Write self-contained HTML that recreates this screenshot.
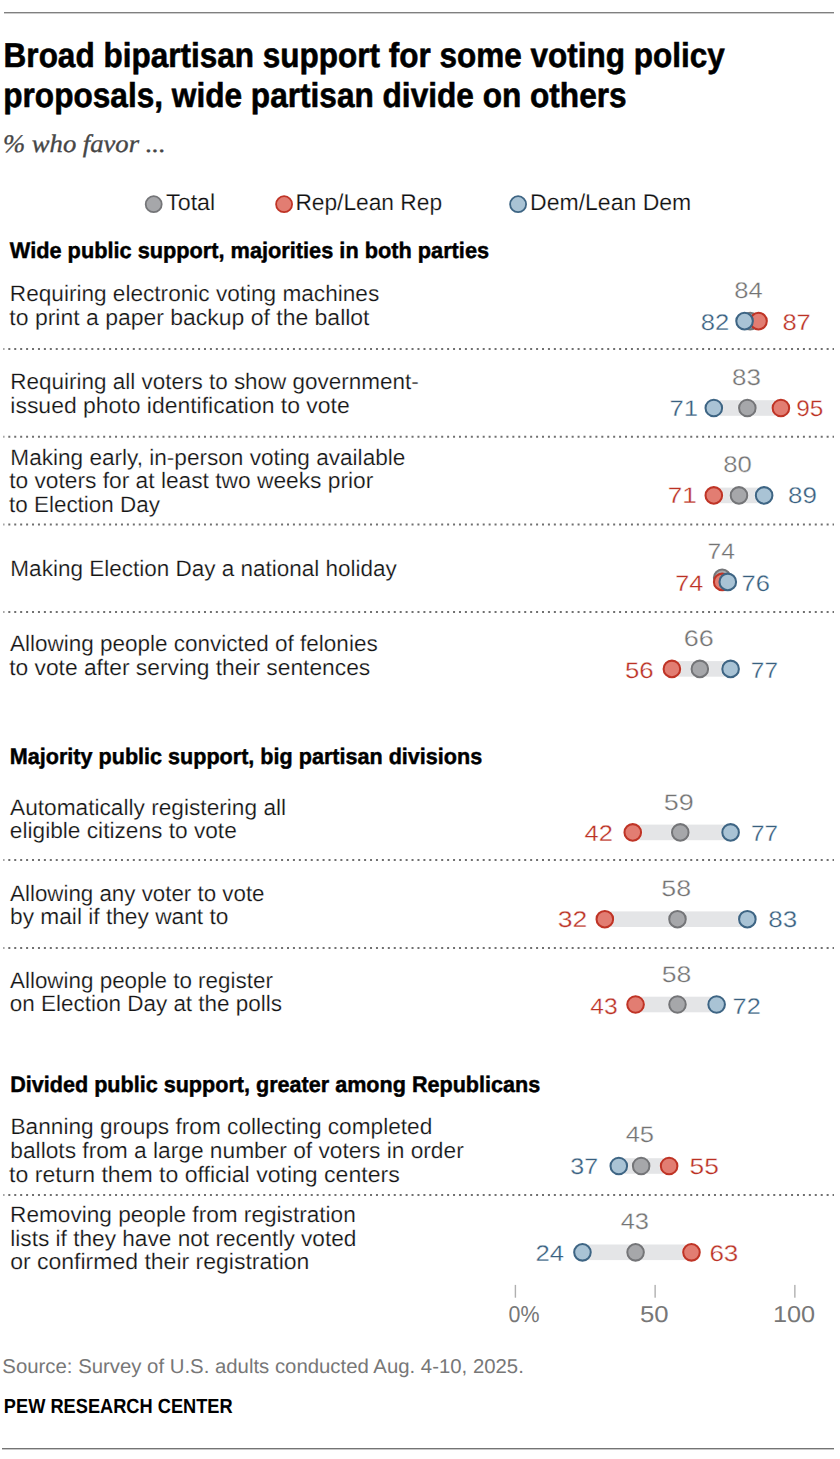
<!DOCTYPE html><html><head><meta charset="utf-8"><style>html,body{margin:0;padding:0;background:#fff;}svg{display:block;}text{font-kerning:normal;text-rendering:geometricPrecision;}</style></head><body>
<svg width="840" height="1459" viewBox="0 0 840 1459">
<rect width="840" height="1459" fill="#fff"/>
<rect x="4" y="12" width="830" height="1.4" fill="#808080"/>
<rect x="2" y="1448" width="832" height="1.4" fill="#747474"/>
<line x1="3.4" y1="348.9" x2="834" y2="348.9" stroke="#707070" stroke-width="2" stroke-dasharray="2 3.93" stroke-dashoffset="1.03"/>
<line x1="3.4" y1="436.8" x2="834" y2="436.8" stroke="#707070" stroke-width="2" stroke-dasharray="2 3.93" stroke-dashoffset="1.03"/>
<line x1="3.4" y1="524.5" x2="834" y2="524.5" stroke="#707070" stroke-width="2" stroke-dasharray="2 3.93" stroke-dashoffset="1.03"/>
<line x1="3.4" y1="612.1" x2="834" y2="612.1" stroke="#707070" stroke-width="2" stroke-dasharray="2 3.93" stroke-dashoffset="1.03"/>
<line x1="3.4" y1="860.0" x2="834" y2="860.0" stroke="#707070" stroke-width="2" stroke-dasharray="2 3.93" stroke-dashoffset="1.03"/>
<line x1="3.4" y1="947.9" x2="834" y2="947.9" stroke="#707070" stroke-width="2" stroke-dasharray="2 3.93" stroke-dashoffset="1.03"/>
<line x1="3.4" y1="1195.0" x2="834" y2="1195.0" stroke="#707070" stroke-width="2" stroke-dasharray="2 3.93" stroke-dashoffset="1.03"/>
<circle cx="153.7" cy="204.2" r="8" fill="#a6a7aa" stroke="#747578" stroke-width="1.8"/>
<circle cx="284.1" cy="204.2" r="8" fill="#e27d72" stroke="#bf3426" stroke-width="1.8"/>
<circle cx="518.1" cy="204.2" r="8" fill="#a9c3d5" stroke="#3e6584" stroke-width="1.8"/>
<rect x="744.56" y="313.30" width="13.97" height="15.6" fill="#e4e5e7"/>
<circle cx="750.15" cy="321.10" r="8.3" fill="#a6a7aa" stroke="#747578" stroke-width="2.05"/>
<circle cx="758.53" cy="321.10" r="8.3" fill="#e27d72" stroke="#bf3426" stroke-width="2.05"/>
<circle cx="744.56" cy="321.10" r="8.3" fill="#a9c3d5" stroke="#3e6584" stroke-width="2.05"/>
<rect x="713.82" y="400.20" width="67.07" height="15.6" fill="#e4e5e7"/>
<circle cx="747.35" cy="408.00" r="9.7" fill="#fff" fill-opacity="0.75"/>
<circle cx="747.35" cy="408.00" r="8.3" fill="#a6a7aa" stroke="#747578" stroke-width="2.05"/>
<circle cx="713.82" cy="408.00" r="9.7" fill="#fff" fill-opacity="0.75"/>
<circle cx="713.82" cy="408.00" r="8.3" fill="#a9c3d5" stroke="#3e6584" stroke-width="2.05"/>
<circle cx="780.89" cy="408.00" r="9.7" fill="#fff" fill-opacity="0.75"/>
<circle cx="780.89" cy="408.00" r="8.3" fill="#e27d72" stroke="#bf3426" stroke-width="2.05"/>
<rect x="713.82" y="487.60" width="50.30" height="15.6" fill="#e4e5e7"/>
<circle cx="738.97" cy="495.40" r="9.7" fill="#fff" fill-opacity="0.75"/>
<circle cx="738.97" cy="495.40" r="8.3" fill="#a6a7aa" stroke="#747578" stroke-width="2.05"/>
<circle cx="764.12" cy="495.40" r="9.7" fill="#fff" fill-opacity="0.75"/>
<circle cx="764.12" cy="495.40" r="8.3" fill="#a9c3d5" stroke="#3e6584" stroke-width="2.05"/>
<circle cx="713.82" cy="495.40" r="9.7" fill="#fff" fill-opacity="0.75"/>
<circle cx="713.82" cy="495.40" r="8.3" fill="#e27d72" stroke="#bf3426" stroke-width="2.05"/>
<rect x="722.20" y="574.10" width="5.59" height="15.6" fill="#e4e5e7"/>
<circle cx="722.20" cy="577.80" r="8.3" fill="#a6a7aa" stroke="#747578" stroke-width="2.05"/>
<circle cx="722.20" cy="581.90" r="8.3" fill="#e27d72" stroke="#bf3426" stroke-width="2.05"/>
<circle cx="727.79" cy="581.90" r="8.3" fill="#a9c3d5" stroke="#3e6584" stroke-width="2.05"/>
<rect x="671.90" y="661.10" width="58.69" height="15.6" fill="#e4e5e7"/>
<circle cx="699.84" cy="668.90" r="9.7" fill="#fff" fill-opacity="0.75"/>
<circle cx="699.84" cy="668.90" r="8.3" fill="#a6a7aa" stroke="#747578" stroke-width="2.05"/>
<circle cx="730.58" cy="668.90" r="9.7" fill="#fff" fill-opacity="0.75"/>
<circle cx="730.58" cy="668.90" r="8.3" fill="#a9c3d5" stroke="#3e6584" stroke-width="2.05"/>
<circle cx="671.90" cy="668.90" r="9.7" fill="#fff" fill-opacity="0.75"/>
<circle cx="671.90" cy="668.90" r="8.3" fill="#e27d72" stroke="#bf3426" stroke-width="2.05"/>
<rect x="632.77" y="824.60" width="97.81" height="15.6" fill="#e4e5e7"/>
<circle cx="680.28" cy="832.40" r="9.7" fill="#fff" fill-opacity="0.75"/>
<circle cx="680.28" cy="832.40" r="8.3" fill="#a6a7aa" stroke="#747578" stroke-width="2.05"/>
<circle cx="730.58" cy="832.40" r="9.7" fill="#fff" fill-opacity="0.75"/>
<circle cx="730.58" cy="832.40" r="8.3" fill="#a9c3d5" stroke="#3e6584" stroke-width="2.05"/>
<circle cx="632.77" cy="832.40" r="9.7" fill="#fff" fill-opacity="0.75"/>
<circle cx="632.77" cy="832.40" r="8.3" fill="#e27d72" stroke="#bf3426" stroke-width="2.05"/>
<rect x="604.83" y="911.40" width="142.52" height="15.6" fill="#e4e5e7"/>
<circle cx="677.49" cy="919.20" r="9.7" fill="#fff" fill-opacity="0.75"/>
<circle cx="677.49" cy="919.20" r="8.3" fill="#a6a7aa" stroke="#747578" stroke-width="2.05"/>
<circle cx="747.35" cy="919.20" r="9.7" fill="#fff" fill-opacity="0.75"/>
<circle cx="747.35" cy="919.20" r="8.3" fill="#a9c3d5" stroke="#3e6584" stroke-width="2.05"/>
<circle cx="604.83" cy="919.20" r="9.7" fill="#fff" fill-opacity="0.75"/>
<circle cx="604.83" cy="919.20" r="8.3" fill="#e27d72" stroke="#bf3426" stroke-width="2.05"/>
<rect x="635.57" y="996.70" width="81.04" height="15.6" fill="#e4e5e7"/>
<circle cx="677.49" cy="1004.50" r="9.7" fill="#fff" fill-opacity="0.75"/>
<circle cx="677.49" cy="1004.50" r="8.3" fill="#a6a7aa" stroke="#747578" stroke-width="2.05"/>
<circle cx="716.61" cy="1004.50" r="9.7" fill="#fff" fill-opacity="0.75"/>
<circle cx="716.61" cy="1004.50" r="8.3" fill="#a9c3d5" stroke="#3e6584" stroke-width="2.05"/>
<circle cx="635.57" cy="1004.50" r="9.7" fill="#fff" fill-opacity="0.75"/>
<circle cx="635.57" cy="1004.50" r="8.3" fill="#e27d72" stroke="#bf3426" stroke-width="2.05"/>
<rect x="618.80" y="1158.20" width="50.30" height="15.6" fill="#e4e5e7"/>
<circle cx="641.16" cy="1166.00" r="9.7" fill="#fff" fill-opacity="0.75"/>
<circle cx="641.16" cy="1166.00" r="8.3" fill="#a6a7aa" stroke="#747578" stroke-width="2.05"/>
<circle cx="618.80" cy="1166.00" r="9.7" fill="#fff" fill-opacity="0.75"/>
<circle cx="618.80" cy="1166.00" r="8.3" fill="#a9c3d5" stroke="#3e6584" stroke-width="2.05"/>
<circle cx="669.10" cy="1166.00" r="9.7" fill="#fff" fill-opacity="0.75"/>
<circle cx="669.10" cy="1166.00" r="8.3" fill="#e27d72" stroke="#bf3426" stroke-width="2.05"/>
<rect x="582.47" y="1244.50" width="108.99" height="15.6" fill="#e4e5e7"/>
<circle cx="635.57" cy="1252.30" r="9.7" fill="#fff" fill-opacity="0.75"/>
<circle cx="635.57" cy="1252.30" r="8.3" fill="#a6a7aa" stroke="#747578" stroke-width="2.05"/>
<circle cx="582.47" cy="1252.30" r="9.7" fill="#fff" fill-opacity="0.75"/>
<circle cx="582.47" cy="1252.30" r="8.3" fill="#a9c3d5" stroke="#3e6584" stroke-width="2.05"/>
<circle cx="691.46" cy="1252.30" r="9.7" fill="#fff" fill-opacity="0.75"/>
<circle cx="691.46" cy="1252.30" r="8.3" fill="#e27d72" stroke="#bf3426" stroke-width="2.05"/>
<rect x="514.70" y="1284.9" width="1.4" height="12.8" fill="#b0b0b0"/>
<rect x="654.43" y="1284.9" width="1.4" height="12.8" fill="#b0b0b0"/>
<rect x="794.16" y="1284.9" width="1.4" height="12.8" fill="#b0b0b0"/>
<text x="3.61" y="66.70" font-family="'Liberation Sans', sans-serif" font-size="34.5" font-weight="bold" font-style="normal" fill="#000" stroke="#000" stroke-width="0.6" textLength="721.27" lengthAdjust="spacingAndGlyphs">Broad bipartisan support for some voting policy</text>
<text x="3.27" y="107.00" font-family="'Liberation Sans', sans-serif" font-size="34.5" font-weight="bold" font-style="normal" fill="#000" stroke="#000" stroke-width="0.6" textLength="623.35" lengthAdjust="spacingAndGlyphs">proposals, wide partisan divide on others</text>
<text x="3.02" y="151.60" font-family="'Liberation Serif', serif" font-size="25.2" font-weight="normal" font-style="italic" fill="#464646" stroke="#464646" stroke-width="0.35" textLength="162.61" lengthAdjust="spacingAndGlyphs">% who favor ...</text>
<text x="166.11" y="210.40" font-family="'Liberation Sans', sans-serif" font-size="22.8" font-weight="normal" font-style="normal" fill="#111111" stroke="#fff" stroke-width="0.2" textLength="49.09" lengthAdjust="spacingAndGlyphs">Total</text>
<text x="295.38" y="210.40" font-family="'Liberation Sans', sans-serif" font-size="22.8" font-weight="normal" font-style="normal" fill="#111111" stroke="#fff" stroke-width="0.2" textLength="146.68" lengthAdjust="spacingAndGlyphs">Rep/Lean Rep</text>
<text x="530.09" y="210.40" font-family="'Liberation Sans', sans-serif" font-size="22.8" font-weight="normal" font-style="normal" fill="#111111" stroke="#fff" stroke-width="0.2" textLength="161.20" lengthAdjust="spacingAndGlyphs">Dem/Lean Dem</text>
<text x="9.85" y="257.90" font-family="'Liberation Sans', sans-serif" font-size="22.5" font-weight="bold" font-style="normal" fill="#000" stroke="#000" stroke-width="0.45" textLength="479.24" lengthAdjust="spacingAndGlyphs">Wide public support, majorities in both parties</text>
<text x="9.83" y="763.60" font-family="'Liberation Sans', sans-serif" font-size="22.5" font-weight="bold" font-style="normal" fill="#000" stroke="#000" stroke-width="0.45" textLength="472.34" lengthAdjust="spacingAndGlyphs">Majority public support, big partisan divisions</text>
<text x="10.21" y="1092.10" font-family="'Liberation Sans', sans-serif" font-size="22.5" font-weight="bold" font-style="normal" fill="#000" stroke="#000" stroke-width="0.45" textLength="530.04" lengthAdjust="spacingAndGlyphs">Divided public support, greater among Republicans</text>
<text x="9.87" y="301.40" font-family="'Liberation Sans', sans-serif" font-size="22.3" font-weight="normal" font-style="normal" fill="#141414" stroke="#fff" stroke-width="0.2" textLength="369.33" lengthAdjust="spacingAndGlyphs">Requiring electronic voting machines</text>
<text x="9.36" y="325.20" font-family="'Liberation Sans', sans-serif" font-size="22.3" font-weight="normal" font-style="normal" fill="#141414" stroke="#fff" stroke-width="0.2" textLength="360.15" lengthAdjust="spacingAndGlyphs">to print a paper backup of the ballot</text>
<text x="10.30" y="388.90" font-family="'Liberation Sans', sans-serif" font-size="22.3" font-weight="normal" font-style="normal" fill="#141414" stroke="#fff" stroke-width="0.2" textLength="408.46" lengthAdjust="spacingAndGlyphs">Requiring all voters to show government-</text>
<text x="10.33" y="412.50" font-family="'Liberation Sans', sans-serif" font-size="22.3" font-weight="normal" font-style="normal" fill="#141414" stroke="#fff" stroke-width="0.2" textLength="339.35" lengthAdjust="spacingAndGlyphs">issued photo identification to vote</text>
<text x="10.35" y="464.60" font-family="'Liberation Sans', sans-serif" font-size="22.3" font-weight="normal" font-style="normal" fill="#141414" stroke="#fff" stroke-width="0.2" textLength="395.00" lengthAdjust="spacingAndGlyphs">Making early, in-person voting available</text>
<text x="9.20" y="488.40" font-family="'Liberation Sans', sans-serif" font-size="22.3" font-weight="normal" font-style="normal" fill="#141414" stroke="#fff" stroke-width="0.2" textLength="364.11" lengthAdjust="spacingAndGlyphs">to voters for at least two weeks prior</text>
<text x="9.12" y="511.90" font-family="'Liberation Sans', sans-serif" font-size="22.3" font-weight="normal" font-style="normal" fill="#141414" stroke="#fff" stroke-width="0.2" textLength="150.73" lengthAdjust="spacingAndGlyphs">to Election Day</text>
<text x="10.38" y="575.70" font-family="'Liberation Sans', sans-serif" font-size="22.3" font-weight="normal" font-style="normal" fill="#141414" stroke="#fff" stroke-width="0.2" textLength="386.48" lengthAdjust="spacingAndGlyphs">Making Election Day a national holiday</text>
<text x="9.94" y="651.40" font-family="'Liberation Sans', sans-serif" font-size="22.3" font-weight="normal" font-style="normal" fill="#141414" stroke="#fff" stroke-width="0.2" textLength="367.71" lengthAdjust="spacingAndGlyphs">Allowing people convicted of felonies</text>
<text x="9.20" y="675.40" font-family="'Liberation Sans', sans-serif" font-size="22.3" font-weight="normal" font-style="normal" fill="#141414" stroke="#fff" stroke-width="0.2" textLength="361.03" lengthAdjust="spacingAndGlyphs">to vote after serving their sentences</text>
<text x="10.02" y="814.60" font-family="'Liberation Sans', sans-serif" font-size="22.3" font-weight="normal" font-style="normal" fill="#141414" stroke="#fff" stroke-width="0.2" textLength="276.08" lengthAdjust="spacingAndGlyphs">Automatically registering all</text>
<text x="9.85" y="838.40" font-family="'Liberation Sans', sans-serif" font-size="22.3" font-weight="normal" font-style="normal" fill="#141414" stroke="#fff" stroke-width="0.2" textLength="226.92" lengthAdjust="spacingAndGlyphs">eligible citizens to vote</text>
<text x="10.09" y="900.70" font-family="'Liberation Sans', sans-serif" font-size="22.3" font-weight="normal" font-style="normal" fill="#141414" stroke="#fff" stroke-width="0.2" textLength="254.46" lengthAdjust="spacingAndGlyphs">Allowing any voter to vote</text>
<text x="10.04" y="924.10" font-family="'Liberation Sans', sans-serif" font-size="22.3" font-weight="normal" font-style="normal" fill="#141414" stroke="#fff" stroke-width="0.2" textLength="218.33" lengthAdjust="spacingAndGlyphs">by mail if they want to</text>
<text x="9.99" y="987.60" font-family="'Liberation Sans', sans-serif" font-size="22.3" font-weight="normal" font-style="normal" fill="#141414" stroke="#fff" stroke-width="0.2" textLength="262.87" lengthAdjust="spacingAndGlyphs">Allowing people to register</text>
<text x="9.80" y="1011.40" font-family="'Liberation Sans', sans-serif" font-size="22.3" font-weight="normal" font-style="normal" fill="#141414" stroke="#fff" stroke-width="0.2" textLength="272.24" lengthAdjust="spacingAndGlyphs">on Election Day at the polls</text>
<text x="10.49" y="1134.30" font-family="'Liberation Sans', sans-serif" font-size="22.3" font-weight="normal" font-style="normal" fill="#141414" stroke="#fff" stroke-width="0.2" textLength="421.83" lengthAdjust="spacingAndGlyphs">Banning groups from collecting completed</text>
<text x="10.34" y="1157.90" font-family="'Liberation Sans', sans-serif" font-size="22.3" font-weight="normal" font-style="normal" fill="#141414" stroke="#fff" stroke-width="0.2" textLength="453.39" lengthAdjust="spacingAndGlyphs">ballots from a large number of voters in order</text>
<text x="9.13" y="1182.00" font-family="'Liberation Sans', sans-serif" font-size="22.3" font-weight="normal" font-style="normal" fill="#141414" stroke="#fff" stroke-width="0.2" textLength="390.61" lengthAdjust="spacingAndGlyphs">to return them to official voting centers</text>
<text x="10.09" y="1221.70" font-family="'Liberation Sans', sans-serif" font-size="22.3" font-weight="normal" font-style="normal" fill="#141414" stroke="#fff" stroke-width="0.2" textLength="345.65" lengthAdjust="spacingAndGlyphs">Removing people from registration</text>
<text x="10.27" y="1245.50" font-family="'Liberation Sans', sans-serif" font-size="22.3" font-weight="normal" font-style="normal" fill="#141414" stroke="#fff" stroke-width="0.2" textLength="346.17" lengthAdjust="spacingAndGlyphs">lists if they have not recently voted</text>
<text x="10.16" y="1269.40" font-family="'Liberation Sans', sans-serif" font-size="22.3" font-weight="normal" font-style="normal" fill="#141414" stroke="#fff" stroke-width="0.2" textLength="299.21" lengthAdjust="spacingAndGlyphs">or confirmed their registration</text>
<text x="734.37" y="298.20" font-family="'Liberation Sans', sans-serif" font-size="22.5" font-weight="normal" font-style="normal" fill="#737373" stroke="#fff" stroke-width="0.3" textLength="28.43" lengthAdjust="spacingAndGlyphs">84</text>
<text x="700.67" y="330.00" font-family="'Liberation Sans', sans-serif" font-size="22.5" font-weight="normal" font-style="normal" fill="#385f7f" stroke="#fff" stroke-width="0.3" textLength="28.47" lengthAdjust="spacingAndGlyphs">82</text>
<text x="782.44" y="330.00" font-family="'Liberation Sans', sans-serif" font-size="22.5" font-weight="normal" font-style="normal" fill="#bb3124" stroke="#fff" stroke-width="0.3" textLength="28.37" lengthAdjust="spacingAndGlyphs">87</text>
<text x="732.14" y="385.30" font-family="'Liberation Sans', sans-serif" font-size="22.5" font-weight="normal" font-style="normal" fill="#737373" stroke="#fff" stroke-width="0.3" textLength="28.80" lengthAdjust="spacingAndGlyphs">83</text>
<text x="669.56" y="415.70" font-family="'Liberation Sans', sans-serif" font-size="22.5" font-weight="normal" font-style="normal" fill="#385f7f" stroke="#fff" stroke-width="0.3" textLength="28.47" lengthAdjust="spacingAndGlyphs">71</text>
<text x="796.25" y="415.70" font-family="'Liberation Sans', sans-serif" font-size="22.5" font-weight="normal" font-style="normal" fill="#bb3124" stroke="#fff" stroke-width="0.3" textLength="27.07" lengthAdjust="spacingAndGlyphs">95</text>
<text x="723.25" y="472.40" font-family="'Liberation Sans', sans-serif" font-size="22.5" font-weight="normal" font-style="normal" fill="#737373" stroke="#fff" stroke-width="0.3" textLength="28.57" lengthAdjust="spacingAndGlyphs">80</text>
<text x="667.78" y="503.30" font-family="'Liberation Sans', sans-serif" font-size="22.5" font-weight="normal" font-style="normal" fill="#bb3124" stroke="#fff" stroke-width="0.3" textLength="28.99" lengthAdjust="spacingAndGlyphs">71</text>
<text x="788.04" y="503.30" font-family="'Liberation Sans', sans-serif" font-size="22.5" font-weight="normal" font-style="normal" fill="#385f7f" stroke="#fff" stroke-width="0.3" textLength="28.87" lengthAdjust="spacingAndGlyphs">89</text>
<text x="707.48" y="558.90" font-family="'Liberation Sans', sans-serif" font-size="22.5" font-weight="normal" font-style="normal" fill="#737373" stroke="#fff" stroke-width="0.3" textLength="27.40" lengthAdjust="spacingAndGlyphs">74</text>
<text x="675.32" y="591.00" font-family="'Liberation Sans', sans-serif" font-size="22.5" font-weight="normal" font-style="normal" fill="#bb3124" stroke="#fff" stroke-width="0.3" textLength="28.00" lengthAdjust="spacingAndGlyphs">74</text>
<text x="741.64" y="591.00" font-family="'Liberation Sans', sans-serif" font-size="22.5" font-weight="normal" font-style="normal" fill="#385f7f" stroke="#fff" stroke-width="0.3" textLength="28.34" lengthAdjust="spacingAndGlyphs">76</text>
<text x="683.67" y="645.70" font-family="'Liberation Sans', sans-serif" font-size="22.5" font-weight="normal" font-style="normal" fill="#737373" stroke="#fff" stroke-width="0.3" textLength="29.96" lengthAdjust="spacingAndGlyphs">66</text>
<text x="624.99" y="677.90" font-family="'Liberation Sans', sans-serif" font-size="22.5" font-weight="normal" font-style="normal" fill="#bb3124" stroke="#fff" stroke-width="0.3" textLength="28.66" lengthAdjust="spacingAndGlyphs">56</text>
<text x="750.89" y="677.90" font-family="'Liberation Sans', sans-serif" font-size="22.5" font-weight="normal" font-style="normal" fill="#385f7f" stroke="#fff" stroke-width="0.3" textLength="27.12" lengthAdjust="spacingAndGlyphs">77</text>
<text x="663.88" y="810.10" font-family="'Liberation Sans', sans-serif" font-size="22.5" font-weight="normal" font-style="normal" fill="#737373" stroke="#fff" stroke-width="0.3" textLength="29.98" lengthAdjust="spacingAndGlyphs">59</text>
<text x="584.55" y="841.00" font-family="'Liberation Sans', sans-serif" font-size="22.5" font-weight="normal" font-style="normal" fill="#bb3124" stroke="#fff" stroke-width="0.3" textLength="28.31" lengthAdjust="spacingAndGlyphs">42</text>
<text x="751.09" y="841.00" font-family="'Liberation Sans', sans-serif" font-size="22.5" font-weight="normal" font-style="normal" fill="#385f7f" stroke="#fff" stroke-width="0.3" textLength="27.02" lengthAdjust="spacingAndGlyphs">77</text>
<text x="661.31" y="896.00" font-family="'Liberation Sans', sans-serif" font-size="22.5" font-weight="normal" font-style="normal" fill="#737373" stroke="#fff" stroke-width="0.3" textLength="29.82" lengthAdjust="spacingAndGlyphs">58</text>
<text x="557.75" y="926.90" font-family="'Liberation Sans', sans-serif" font-size="22.5" font-weight="normal" font-style="normal" fill="#bb3124" stroke="#fff" stroke-width="0.3" textLength="29.49" lengthAdjust="spacingAndGlyphs">32</text>
<text x="768.36" y="926.90" font-family="'Liberation Sans', sans-serif" font-size="22.5" font-weight="normal" font-style="normal" fill="#385f7f" stroke="#fff" stroke-width="0.3" textLength="28.87" lengthAdjust="spacingAndGlyphs">83</text>
<text x="661.84" y="982.00" font-family="'Liberation Sans', sans-serif" font-size="22.5" font-weight="normal" font-style="normal" fill="#737373" stroke="#fff" stroke-width="0.3" textLength="29.55" lengthAdjust="spacingAndGlyphs">58</text>
<text x="590.35" y="1013.60" font-family="'Liberation Sans', sans-serif" font-size="22.5" font-weight="normal" font-style="normal" fill="#bb3124" stroke="#fff" stroke-width="0.3" textLength="27.39" lengthAdjust="spacingAndGlyphs">43</text>
<text x="732.63" y="1013.60" font-family="'Liberation Sans', sans-serif" font-size="22.5" font-weight="normal" font-style="normal" fill="#385f7f" stroke="#fff" stroke-width="0.3" textLength="28.08" lengthAdjust="spacingAndGlyphs">72</text>
<text x="625.65" y="1141.80" font-family="'Liberation Sans', sans-serif" font-size="22.5" font-weight="normal" font-style="normal" fill="#737373" stroke="#fff" stroke-width="0.3" textLength="28.40" lengthAdjust="spacingAndGlyphs">45</text>
<text x="570.31" y="1173.90" font-family="'Liberation Sans', sans-serif" font-size="22.5" font-weight="normal" font-style="normal" fill="#385f7f" stroke="#fff" stroke-width="0.3" textLength="27.85" lengthAdjust="spacingAndGlyphs">37</text>
<text x="689.53" y="1173.90" font-family="'Liberation Sans', sans-serif" font-size="22.5" font-weight="normal" font-style="normal" fill="#bb3124" stroke="#fff" stroke-width="0.3" textLength="29.29" lengthAdjust="spacingAndGlyphs">55</text>
<text x="620.70" y="1228.60" font-family="'Liberation Sans', sans-serif" font-size="22.5" font-weight="normal" font-style="normal" fill="#737373" stroke="#fff" stroke-width="0.3" textLength="28.25" lengthAdjust="spacingAndGlyphs">43</text>
<text x="535.55" y="1261.40" font-family="'Liberation Sans', sans-serif" font-size="22.5" font-weight="normal" font-style="normal" fill="#385f7f" stroke="#fff" stroke-width="0.3" textLength="28.56" lengthAdjust="spacingAndGlyphs">24</text>
<text x="709.42" y="1261.40" font-family="'Liberation Sans', sans-serif" font-size="22.5" font-weight="normal" font-style="normal" fill="#bb3124" stroke="#fff" stroke-width="0.3" textLength="28.93" lengthAdjust="spacingAndGlyphs">63</text>
<text x="508.58" y="1321.80" font-family="'Liberation Sans', sans-serif" font-size="23" font-weight="normal" font-style="normal" fill="#777777" textLength="30.94" lengthAdjust="spacingAndGlyphs">0%</text>
<text x="640.04" y="1321.80" font-family="'Liberation Sans', sans-serif" font-size="23" font-weight="normal" font-style="normal" fill="#777777" textLength="28.61" lengthAdjust="spacingAndGlyphs">50</text>
<text x="772.94" y="1321.60" font-family="'Liberation Sans', sans-serif" font-size="23" font-weight="normal" font-style="normal" fill="#777777" textLength="42.18" lengthAdjust="spacingAndGlyphs">100</text>
<text x="2.36" y="1373.20" font-family="'Liberation Sans', sans-serif" font-size="20" font-weight="normal" font-style="normal" fill="#777777" textLength="521.45" lengthAdjust="spacingAndGlyphs">Source: Survey of U.S. adults conducted Aug. 4-10, 2025.</text>
<text x="3.84" y="1412.70" font-family="'Liberation Sans', sans-serif" font-size="20.5" font-weight="bold" font-style="normal" fill="#000" textLength="228.86" lengthAdjust="spacingAndGlyphs">PEW RESEARCH CENTER</text>
</svg></body></html>
